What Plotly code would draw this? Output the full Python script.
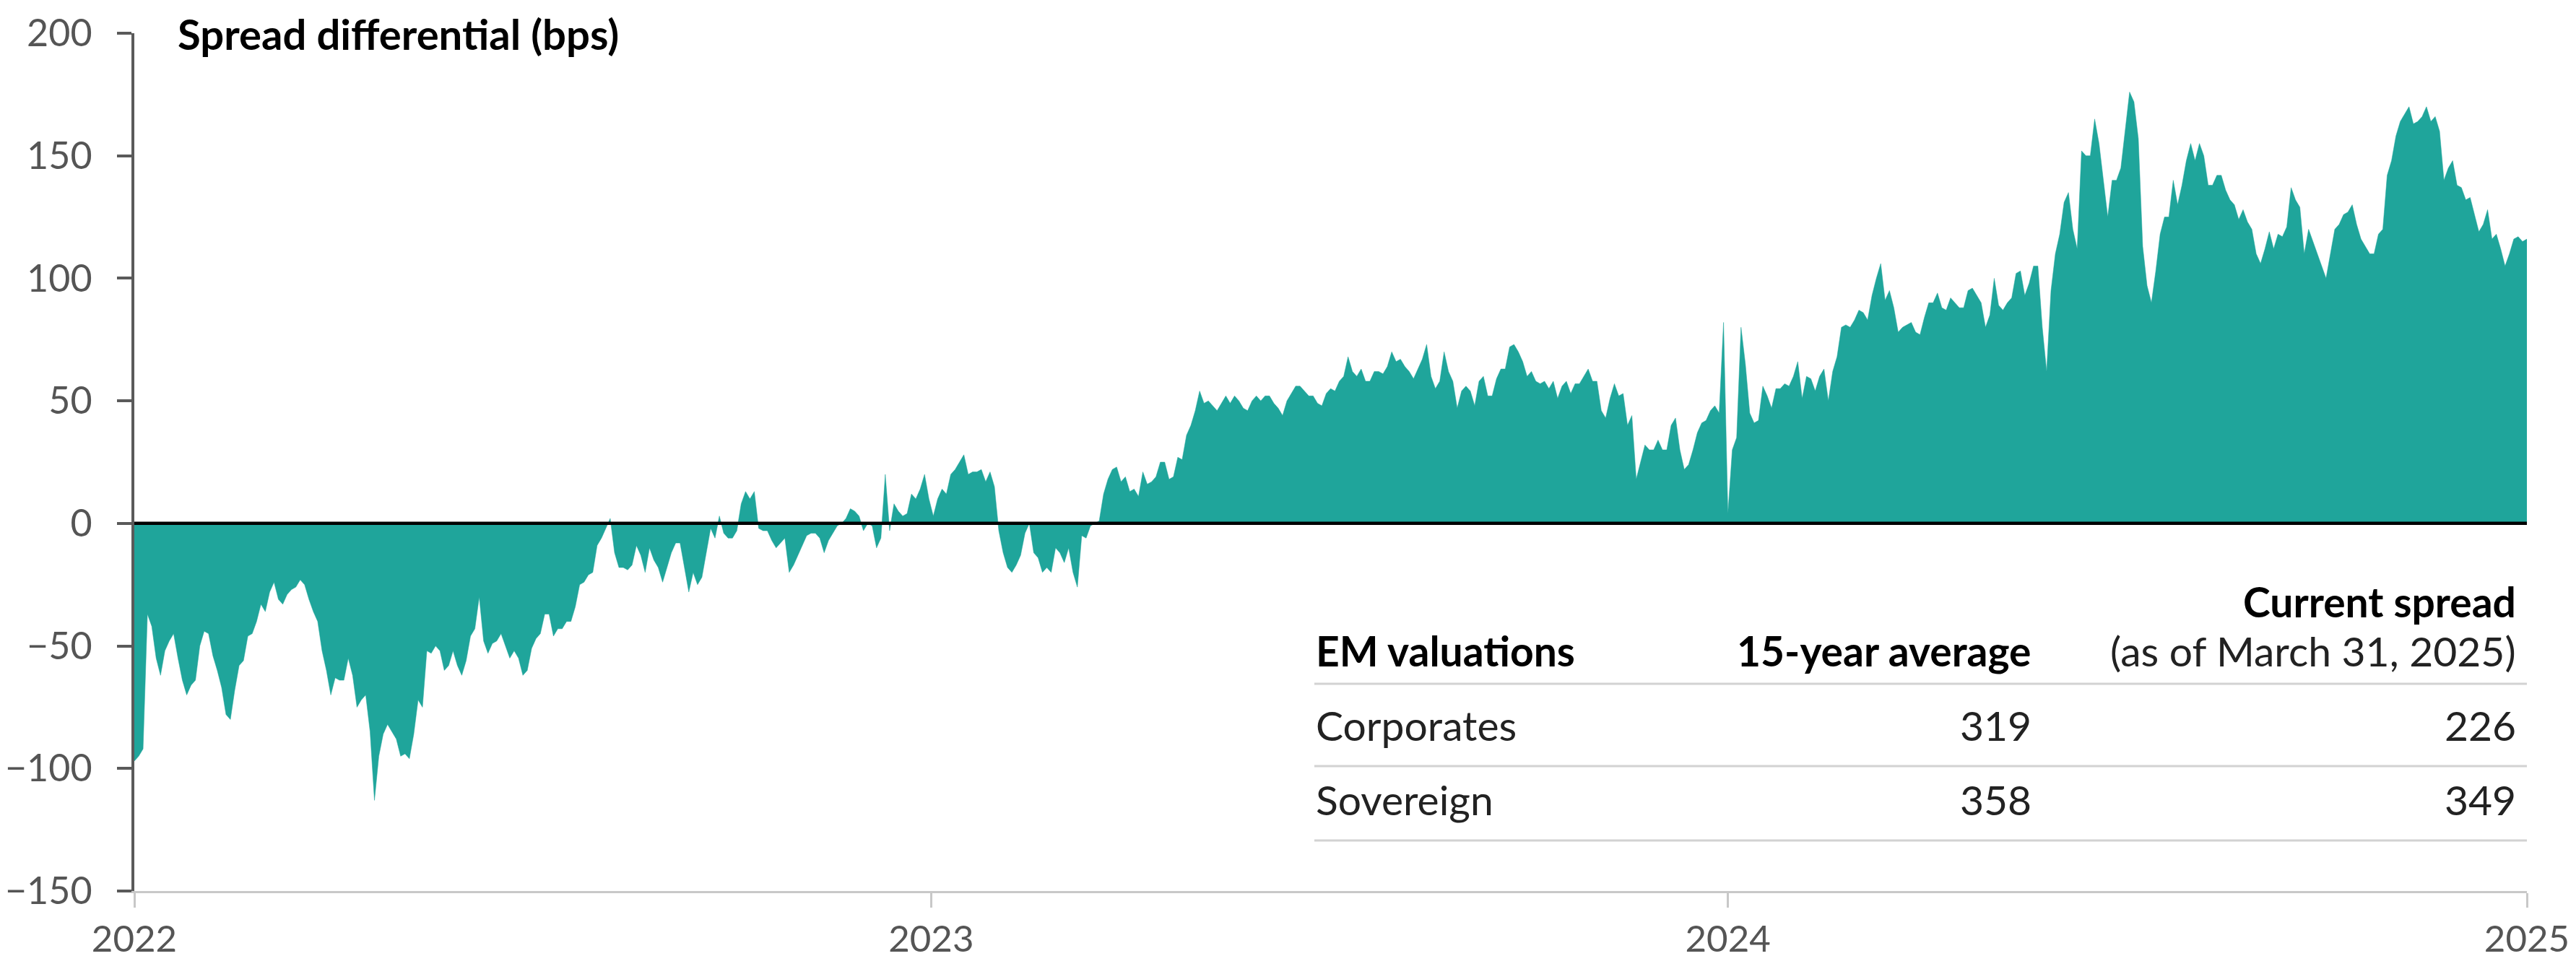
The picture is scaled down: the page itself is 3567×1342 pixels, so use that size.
import pandas as pd
import plotly.graph_objects as go

# spread differential (bps), one reading every 2 days from 2022-01-01
spread_2022 = [
    -97, -95, -92, -37, -42, -55, -62, -52, -48, -45, -55, -64,
    -70, -66, -64, -50, -44, -45, -54, -60, -67, -78, -80, -68,
    -58, -56, -46, -45, -40, -33, -36, -28, -24, -31, -33, -29,
    -27, -26, -23, -25, -31, -36, -40, -52, -60, -70, -63, -64,
    -64, -55, -62, -75, -72, -70, -85, -113, -95, -86, -82, -85,
    -88, -95, -94, -96, -86, -72, -75, -52, -53, -50, -52, -60,
    -58, -52, -58, -62, -56, -46, -43, -30, -48, -53, -49, -48,
    -45, -50, -55, -52, -55, -62, -60, -51, -47, -45, -37, -37,
    -46, -43, -43, -40, -40, -34, -25, -24, -21, -20, -9, -6,
    -2, 2, -12, -18, -18, -19, -17, -9, -13, -20, -10, -15,
    -18, -24, -18, -12, -8, -8, -18, -28, -20, -25, -22, -12,
    -2, -6, 3, -4, -6, -6, -3, 8, 13, 10, 13, -2,
    -3, -3, -7, -10, -8, -6, -20, -17, -13, -9, -5, -4,
    -4, -6, -12, -7, -4, -1, 0, 2, 6, 5, 3, -3,
    0, -1, -10, -6, 20, -3, 8, 5, 3, 4, 12, 10,
    14, 20, 10,
]
spread_2023 = [
    3, 10, 14, 12, 20, 22, 25, 28, 20, 21, 21, 22,
    17, 21, 15, -3, -12, -18, -20, -17, -13, -4, 0, -12,
    -14, -20, -18, -20, -10, -12, -16, -10, -20, -26, -5, -6,
    -1, 0, 1, 12, 18, 22, 23, 17, 19, 13, 14, 11,
    21, 16, 17, 19, 25, 25, 18, 19, 27, 26, 36, 40,
    46, 54, 49, 50, 48, 46, 49, 52, 49, 52, 50, 47,
    46, 50, 52, 50, 52, 52, 49, 47, 44, 50, 53, 56,
    56, 54, 52, 52, 49, 48, 53, 55, 54, 58, 60, 68,
    62, 60, 63, 58, 58, 62, 62, 61, 64, 70, 66, 67,
    64, 62, 59, 63, 67, 73, 60, 55, 58, 70, 62, 58,
    47, 54, 56, 54, 48, 58, 60, 52, 52, 59, 63, 63,
    72, 73, 70, 66, 60, 62, 58, 57, 58, 55, 58, 51,
    56, 58, 53, 57, 57, 60, 63, 58, 58, 46, 43, 51,
    57, 52, 53, 40, 44, 18, 25, 32, 30, 30, 34, 30,
    30, 40, 43, 30, 22, 24, 30, 37, 41, 42, 46, 48,
    45, 82, 4,
]
spread_2024 = [
    30, 35, 80, 65, 45, 41, 42, 56, 52, 47, 55, 55,
    57, 56, 60, 66, 51, 60, 59, 54, 60, 63, 50, 62,
    68, 80, 81, 80, 83, 87, 86, 83, 93, 100, 106, 91,
    95, 88, 78, 80, 81, 82, 78, 77, 84, 90, 90, 94,
    88, 87, 92, 90, 88, 88, 95, 96, 93, 90, 80, 85,
    100, 89, 87, 90, 92, 102, 103, 93, 98, 105, 105, 80,
    62, 95, 110, 118, 131, 135, 120, 112, 152, 150, 150, 165,
    155, 140, 125, 140, 140, 145, 160, 176, 172, 157, 113, 97,
    90, 103, 118, 125, 125, 140, 130, 138, 148, 155, 148, 155,
    150, 138, 138, 142, 142, 136, 132, 130, 124, 128, 123, 120,
    110, 106, 112, 119, 112, 118, 117, 121, 137, 132, 129, 110,
    120, 115, 110, 105, 100, 110, 120, 122, 126, 127, 130, 122,
    116, 113, 110, 110, 118, 120, 142, 148, 158, 164, 167, 170,
    163, 164, 166, 170, 164, 166, 160, 140, 145, 148, 138, 137,
    132, 133, 126, 119, 122, 128, 116, 118, 112, 105, 110, 116,
    117, 115, 116,
]
spread = spread_2022 + spread_2023 + spread_2024
dates = pd.date_range("2022-01-01", periods=len(spread), freq="2D")

year_ticks = ["2022-01-01", "2023-01-01", "2024-01-01", "2025-01-01"]
year_labels = ["2022", "2023", "2024", "2025"]
y_ticks = [-150, -100, -50, 0, 50, 100, 150, 200]

# valuations table
table_header = ["EM valuations", "15-year average", "Current spread"]
table_subheader = "(as of March 31, 2025)"
table_rows = ["Corporates", "Sovereign"]
avg_15y = [319, 358]
current = [226, 349]

TEAL = "#1fa59b"
FONT = "Lato, 'Noto Sans', sans-serif"
TXT = 57

fig = go.Figure(go.Scatter(
    x=dates,
    y=spread,
    mode="lines",
    line=dict(color=TEAL, width=0.5),
    fill="tozeroy",
    fillcolor=TEAL,
    hoverinfo="x+y",
))

# zero line on top of the fill
fig.add_shape(type="line", xref="paper", yref="y", x0=0, x1=1, y0=0, y1=0,
              line=dict(color="black", width=4.5), layer="above")

annotations = [
    dict(text="<b>Spread differential (bps)</b>", x=0.0175, y=1.0,
         xanchor="left", yanchor="middle", font=dict(size=58, color="black")),
]

# table text
col_x = [0.4932, 0.7935, 0.9961]
head_y = 0.2803
annotations.append(dict(text="<b>" + table_header[0] + "</b>", x=col_x[0], y=head_y,
                        xanchor="left", yanchor="middle", font=dict(size=TXT, color="black")))
annotations.append(dict(text="<b>" + table_header[1] + "</b>", x=col_x[1], y=head_y,
                        xanchor="right", yanchor="middle", font=dict(size=TXT, color="black")))
annotations.append(dict(text="<b>" + table_header[2] + "</b>", x=col_x[2], y=0.3375,
                        xanchor="right", yanchor="middle", font=dict(size=TXT, color="black")))
annotations.append(dict(text=table_subheader, x=col_x[2], y=head_y,
                        xanchor="right", yanchor="middle", font=dict(size=TXT, color="#222")))

row_y = [0.1936, 0.1069]
for name, a, c, ry in zip(table_rows, avg_15y, current, row_y):
    annotations.append(dict(text=name, x=col_x[0], y=ry, xanchor="left", yanchor="middle",
                            font=dict(size=TXT, color="#222")))
    annotations.append(dict(text=str(a), x=col_x[1], y=ry, xanchor="right", yanchor="middle",
                            font=dict(size=TXT, color="#222")))
    annotations.append(dict(text=str(c), x=col_x[2], y=ry, xanchor="right", yanchor="middle",
                            font=dict(size=TXT, color="#222")))

for ly in [0.2416, 0.1456, 0.0589]:
    fig.add_shape(type="line", xref="paper", yref="paper", x0=col_x[0], x1=1.0,
                  y0=ly, y1=ly, line=dict(color="#d2d2d2", width=3))

for a in annotations:
    a.update(xref="paper", yref="paper", showarrow=False)

# the page body keeps an 8px margin, so the figure is 16px smaller than the window
fig.update_layout(
    width=3551,
    height=1326,
    margin=dict(l=178, r=60, t=38, b=100),
    plot_bgcolor="white",
    paper_bgcolor="white",
    showlegend=False,
    font=dict(family=FONT, size=52, color="#555"),
    annotations=annotations,
)

fig.update_xaxes(
    type="date",
    range=["2022-01-01", "2025-01-01"],
    tickvals=year_ticks,
    ticktext=year_labels,
    ticks="outside",
    ticklen=20,
    tickwidth=3,
    tickcolor="#c8c8c8",
    showline=True,
    linecolor="#c8c8c8",
    linewidth=3,
    showgrid=False,
    zeroline=False,
    automargin=False,
    tickfont=dict(size=51, color="#555"),
    ticklabelstandoff=0,
    ticklabeloverflow="allow",
)

fig.update_yaxes(
    range=[-150, 200],
    tickvals=y_ticks,
    ticks="outside",
    ticklen=20,
    tickwidth=4,
    tickcolor="#5a5a5a",
    showline=True,
    linecolor="#5a5a5a",
    linewidth=4,
    showgrid=False,
    zeroline=False,
    automargin=False,
    tickfont=dict(size=52, color="#555"),
    ticklabelstandoff=24,
    ticklabeloverflow="allow",
)

fig.write_html("out.html")
